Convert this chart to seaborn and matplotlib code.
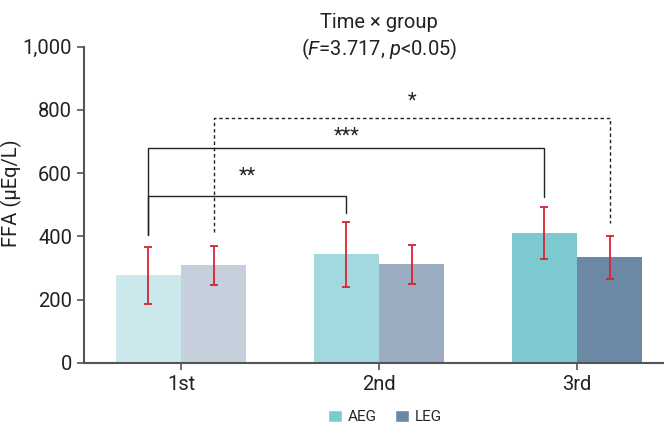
import matplotlib
matplotlib.use("Agg")
import matplotlib.pyplot as plt
import matplotlib.transforms as mtransforms
from matplotlib.patches import Patch
from matplotlib.ticker import FuncFormatter
import pandas as pd
import seaborn as sns

# data
times    = ["1st", "2nd", "3rd"]
groups   = ["AEG", "LEG"]
aeg_mean = [276, 343, 410]
aeg_sd   = [89, 102, 83]
leg_mean = [308, 311, 333]
leg_sd   = [61, 61, 67]

AEG_COLORS = ["#cbe9ed", "#a3d8de", "#7ccad0"]
LEG_COLORS = ["#c5d0dc", "#9babc0", "#6b88a5"]
ERR_COLOR  = "#d8232f"
AXIS_COLOR = "#555555"
TEXT_COLOR = "#222222"
FS = 14.5

sns.set_theme(style="white")
plt.rcParams["font.family"] = ["Roboto", "DejaVu Sans"]
plt.rcParams["mathtext.fontset"] = "custom"
plt.rcParams["mathtext.rm"] = "Roboto"
plt.rcParams["mathtext.it"] = "Roboto:italic"

df = pd.DataFrame({
    "time":  times * 2,
    "group": ["AEG"] * 3 + ["LEG"] * 3,
    "ffa":   aeg_mean + leg_mean,
    "sd":    aeg_sd + leg_sd,
})

fig = plt.figure(figsize=(6.64, 4.24), dpi=100)
ax = fig.add_axes([84 / 664, 1 - 362.7 / 424, 1 - 84 / 664, (362.7 - 46.7) / 424])

sns.barplot(data=df, x="time", y="ffa", hue="group", order=times, hue_order=groups,
            width=0.66, errorbar=None, legend=False, ax=ax, saturation=1)

# recolour per bar and add error bars
bar_x = {}
for i, p in enumerate(ax.patches[:6]):
    g = i // 3
    t = i % 3
    p.set_facecolor(AEG_COLORS[t] if g == 0 else LEG_COLORS[t])
    p.set_edgecolor("none")
    cx = p.get_x() + p.get_width() / 2
    bar_x[(groups[g], t)] = cx
    mean = aeg_mean[t] if g == 0 else leg_mean[t]
    sd = aeg_sd[t] if g == 0 else leg_sd[t]
    ax.errorbar(cx, mean, yerr=sd, fmt="none", ecolor=ERR_COLOR,
                elinewidth=1.3, capsize=3, capthick=1.3, zorder=4)

# significance brackets
def bracket(x1, x2, y1, y2, h, label, ls="-", ty=None):
    ax.plot([x1, x1, x2, x2], [y1, h, h, y2], color=TEXT_COLOR, lw=1,
            ls=ls, solid_joinstyle="miter", zorder=5)
    ax.text((x1 + x2) / 2, ty, label, ha="center", va="center", fontsize=FS, color=TEXT_COLOR)

bracket(bar_x[("AEG", 0)], bar_x[("AEG", 1)], 404, 475, 527, "**", ty=590)
bracket(bar_x[("AEG", 0)], bar_x[("AEG", 2)], 404, 524, 680, "***", ty=716)
bracket(bar_x[("LEG", 0)], bar_x[("LEG", 2)], 413, 443, 775, "*", ls=(0, (2.5, 2)), ty=828)

ax.set_ylim(0, 1000)
ax.set_xlim(-0.49, 2.44)
ax.set_yticks([0, 200, 400, 600, 800, 1000])
ax.yaxis.set_major_formatter(FuncFormatter(lambda v, _: f"{int(v):,}"))
ax.set_xlabel("")
ax.set_ylabel("FFA (µEq/L)", fontsize=FS, color=TEXT_COLOR)
ax.yaxis.set_label_coords((22 - 84) / 580, 0.535)

for side in ["top", "right"]:
    ax.spines[side].set_visible(False)
for side in ["left", "bottom"]:
    ax.spines[side].set_color(AXIS_COLOR)
    ax.spines[side].set_linewidth(1.5)
ax.tick_params(axis="both", labelsize=FS, colors=TEXT_COLOR, length=5,
               width=1.2, color=AXIS_COLOR, left=True, bottom=True)

# title over the middle category
tr = mtransforms.blended_transform_factory(ax.transData, fig.transFigure)
ax.text(1, 1 - 23 / 424, "Time × group", transform=tr, ha="center", va="center",
        fontsize=FS, color=TEXT_COLOR)
ax.text(1, 1 - 49 / 424, r"($\mathit{F}$=3.717, $\mathit{p}$<0.05)", transform=tr,
        ha="center", va="center", fontsize=FS, color=TEXT_COLOR)

handles = [Patch(facecolor=AEG_COLORS[2], label="AEG"),
           Patch(facecolor=LEG_COLORS[2], label="LEG")]
fig.legend(handles=handles, loc="center", bbox_to_anchor=(385 / 664, 1 - 417 / 424),
           ncol=2, frameon=False, fontsize=11, handlelength=0.9, handleheight=0.9,
           handletextpad=0.4, columnspacing=1.2)

fig.savefig("out.png", dpi=100)
